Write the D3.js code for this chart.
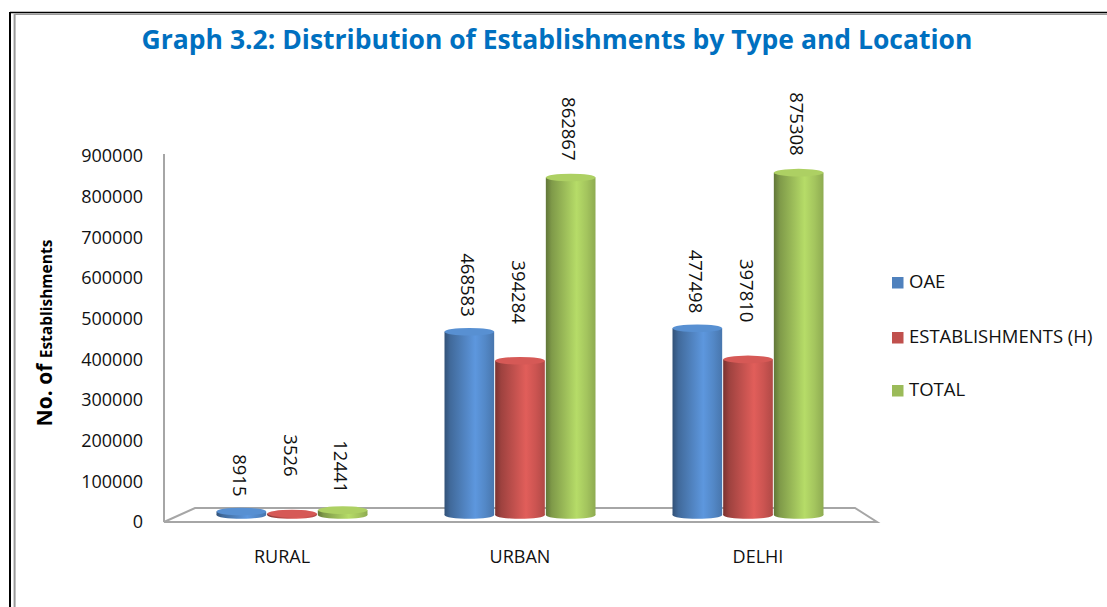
<!DOCTYPE html>
<html>
<head>
<meta charset="utf-8">
<script src="https://cdn.jsdelivr.net/npm/d3@7"></script>
<style>
  html, body { margin: 0; padding: 0; background: #fff; }
  svg { display: block; }
  text { font-family: "Open Sans", "Noto Sans", sans-serif; }
</style>
</head>
<body>
<svg id="chart" width="1107" height="607"></svg>
<script>
// ---- data ----
const categories = ["RURAL", "URBAN", "DELHI"];
const seriesNames = ["OAE", "ESTABLISHMENTS (H)", "TOTAL"];
const oaeValues = [8915, 468583, 477498];
const estValues = [3526, 394284, 397810];
const totalValues = [12441, 862867, 875308];
const yTicks = [0, 100000, 200000, 300000, 400000, 500000, 600000, 700000, 800000, 900000];
const seriesColors = ["#4F81BD", "#C0504D", "#9BBB59"];

const seriesValues = [oaeValues, estValues, totalValues];

const svg = d3.select("#chart");
const W = 1107, H = 607;

// ---- frame ----
svg.append("line").attr("x1", 10).attr("y1", 12.5).attr("x2", W).attr("y2", 12.5)
  .attr("stroke", "#000").attr("stroke-width", 1.6);
svg.append("line").attr("x1", 10).attr("y1", 12).attr("x2", 10).attr("y2", H)
  .attr("stroke", "#000").attr("stroke-width", 2);
svg.append("line").attr("x1", 14.5).attr("y1", 14.3).attr("x2", W).attr("y2", 14.3)
  .attr("stroke", "#999").attr("stroke-width", 1.6);
svg.append("line").attr("x1", 14.6).attr("y1", 14).attr("x2", 14.6).attr("y2", H)
  .attr("stroke", "#999").attr("stroke-width", 2);

// ---- title ----
svg.append("text")
  .attr("x", 557).attr("y", 49)
  .attr("text-anchor", "middle")
  .attr("font-weight", "bold")
  .attr("font-size", 26.5)
  .attr("fill", "#0070C0")
  .text("Graph 3.2: Distribution of Establishments by Type and Location");

// ---- scales ----
const y = d3.scaleLinear().domain([0, 900000]).range([522, 156]);
const yBar = d3.scaleLinear().domain([0, 900000]).range([515, 163]);
const x0 = d3.scalePoint().domain(categories).range([292, 748]);
const x1 = d3.scaleBand().domain(seriesNames).range([-76, 76]);
const xLabel = d3.scalePoint().domain(categories).range([282, 758]);

// ---- axis ----
const axisX = 164;
const yAxis = d3.axisLeft(y).tickValues(yTicks).tickSize(0).tickPadding(21)
  .tickFormat(d3.format("d"));
const ga = svg.append("g").attr("transform", `translate(${axisX},0)`).call(yAxis);
ga.select(".domain").remove();
ga.selectAll("text").attr("font-size", 18).attr("fill", "#111")
  .attr("font-family", "'Open Sans', sans-serif");
svg.append("line").attr("x1", axisX).attr("x2", axisX)
  .attr("y1", y(900000) - 2).attr("y2", y(0))
  .attr("stroke", "#A6A6A6").attr("stroke-width", 2);

// floor (3D base)
const floorPts = [[axisX, y(0)], [axisX + 31, y(0) - 14], [855, y(0) - 14], [877, y(0)]];
svg.append("polygon")
  .attr("points", floorPts.map(p => p.join(",")).join(" "))
  .attr("fill", "#fff").attr("stroke", "#A6A6A6").attr("stroke-width", 2)
  .attr("stroke-linejoin", "miter");

// y title
const yt = svg.append("text")
  .attr("transform", "translate(52,333) rotate(-90)")
  .attr("text-anchor", "middle")
  .attr("font-weight", "bold")
  .attr("fill", "#000");
yt.append("tspan").attr("font-size", 21).text("No. of ");
yt.append("tspan").attr("font-size", 15.5).text("Establishments");

// ---- gradients ----
const defs = svg.append("defs");
seriesColors.forEach((c, i) => {
  const col = d3.color(c);
  const g = defs.append("linearGradient").attr("id", "cyl" + i)
    .attr("x1", "0%").attr("x2", "100%").attr("y1", "0%").attr("y2", "0%");
  const stops = [
    [0, col.darker(1.3)],
    [0.12, col.darker(0.55)],
    [0.35, col.darker(0.05)],
    [0.62, col.brighter(0.45)],
    [0.82, col.brighter(0.15)],
    [1, col.darker(0.25)]
  ];
  stops.forEach(([o, cc]) => g.append("stop").attr("offset", o).attr("stop-color", cc.formatHex()));
});

// ---- bars (cylinders) ----
const rows = [];
categories.forEach((cat, ci) => {
  seriesNames.forEach((s, si) => {
    rows.push({ cat, s, si, v: seriesValues[si][ci] });
  });
});

const bw = x1.bandwidth() - 1;
const ry = 3.8;
const base = yBar(0);
const bars = svg.append("g").selectAll("g").data(rows).join("g");
bars.each(function (d) {
  const g = d3.select(this);
  const cx = x0(d.cat) + x1(d.s) + x1.bandwidth() / 2;
  const top = yBar(d.v);
  const col = d3.color(seriesColors[d.si]);
  // bottom ellipse
  g.append("ellipse").attr("cx", cx).attr("cy", base).attr("rx", bw / 2).attr("ry", ry)
    .attr("fill", `url(#cyl${d.si})`);
  // body
  g.append("rect").attr("x", cx - bw / 2).attr("y", top).attr("width", bw).attr("height", base - top)
    .attr("fill", `url(#cyl${d.si})`);
  // top ellipse
  g.append("ellipse").attr("cx", cx).attr("cy", top).attr("rx", bw / 2).attr("ry", ry)
    .attr("fill", col.brighter(0.3).formatHex());
});

// ---- data labels ----
const labelOffset = [15, 37, 17];
svg.append("g").selectAll("text").data(rows).join("text")
  .attr("transform", d => {
    const cx = x0(d.cat) + x1(d.s) + x1.bandwidth() / 2 - 2;
    return `translate(${cx},${yBar(d.v) - labelOffset[d.si]}) rotate(90)`;
  })
  .attr("text-anchor", "end")
  .attr("dy", "0.35em")
  .attr("font-size", 18.5)
  .attr("fill", "#111")
  .text(d => d.v);

// ---- category labels ----
svg.append("g").selectAll("text").data(categories).join("text")
  .attr("x", d => xLabel(d)).attr("y", 563)
  .attr("text-anchor", "middle")
  .attr("font-size", 18)
  .attr("fill", "#111")
  .text(d => d);

// ---- legend ----
const legendY = [282, 337, 390];
const lg = svg.append("g").selectAll("g").data(seriesNames).join("g")
  .attr("transform", (d, i) => `translate(892,${legendY[i]})`);
lg.append("rect").attr("x", 0).attr("y", -5).attr("width", 11.5).attr("height", 11.5)
  .attr("fill", (d, i) => seriesColors[i]);
lg.append("text").attr("x", 17).attr("y", 0).attr("dy", "0.35em")
  .attr("font-size", 18.5).attr("fill", "#111").text(d => d);
</script>
</body>
</html>
